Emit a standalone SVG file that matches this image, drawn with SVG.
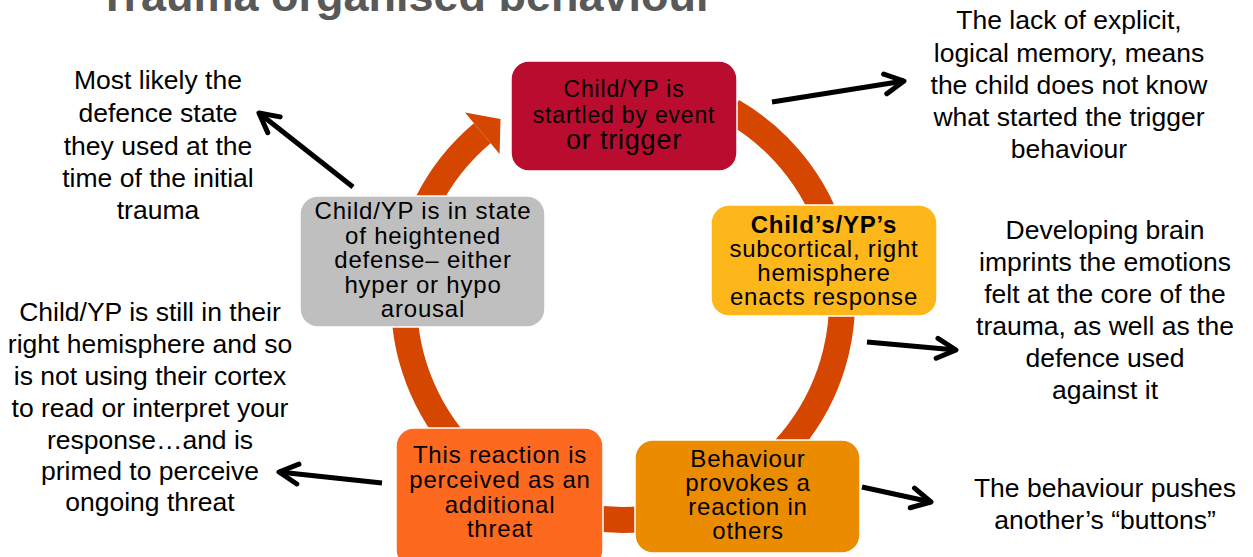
<svg xmlns="http://www.w3.org/2000/svg" width="1253" height="557" viewBox="0 0 1253 557">
<style>
.t{font-family:"Liberation Sans",Arial,sans-serif;fill:#000;text-anchor:middle}
.note{font-size:26.5px}
.box{font-size:24px;letter-spacing:0.8px}
.title{font-family:"Liberation Sans",Arial,sans-serif;font-size:45px;font-weight:bold;fill:#595959}
.arr{fill:none;stroke:#000;stroke-width:5;marker-end:url(#ah)}
.n{stroke:#fff;stroke-width:1.5}
</style>
<defs>
<marker id="ah" markerUnits="userSpaceOnUse" markerWidth="28" markerHeight="26" viewBox="-24 -13 28 26" refX="0" refY="0" orient="auto" overflow="visible">
<path d="M-19,-10 L0,0 L-19,10" fill="none" stroke="#000" stroke-width="5" stroke-linecap="round" stroke-linejoin="round"/>
</marker>
</defs>
<rect width="1253" height="557" fill="#fff"/>
<text class="title" x="406" y="11" text-anchor="middle">Trauma organised behaviour</text>

<g id="cycle">
<path d="M 732.5 111.3 A 219 219 0 1 1 482.3 133.2" fill="none" stroke="#D54600" stroke-width="26"/>
<polygon points="465,112.5 500.5,119 499.6,153.9" fill="#D54600"/>
</g>

<g id="connectors">
<line class="arr" x1="772" y1="102" x2="904" y2="81"/>
<line class="arr" x1="353" y1="187" x2="259" y2="113"/>
<line class="arr" x1="867" y1="342" x2="956" y2="350"/>
<line class="arr" x1="382" y1="483" x2="279" y2="472"/>
<line class="arr" x1="862" y1="487" x2="931" y2="502"/>
</g>

<g id="node-trigger">
<rect class="n" x="511" y="61" width="226" height="110" rx="18" fill="#BA0C2F"/>
<text class="t box" x="624" y="97" style="font-size:23px">Child/YP is</text>
<text class="t box" x="624" y="123" style="font-size:23px">startled by event</text>
<text class="t box" x="624" y="149" style="font-size:27px">or trigger</text>
</g>

<g id="node-subcortical">
<rect class="n" x="711" y="205" width="226" height="111" rx="18" fill="#FDB71A"/>
<text class="t box" x="824" y="233" font-weight="bold">Child’s/YP’s</text>
<text class="t box" x="824" y="257">subcortical, right</text>
<text class="t box" x="824" y="281">hemisphere</text>
<text class="t box" x="824" y="305">enacts response</text>
</g>

<g id="node-behaviour">
<rect class="n" x="635" y="440" width="225" height="113" rx="18" fill="#EB8C00"/>
<text class="t box" x="748" y="467">Behaviour</text>
<text class="t box" x="748" y="491">provokes a</text>
<text class="t box" x="748" y="515">reaction in</text>
<text class="t box" x="748" y="539">others</text>
</g>

<g id="node-reaction">
<rect class="n" x="396" y="428" width="207" height="140" rx="18" fill="#FD6A1F"/>
<text class="t box" x="500" y="463">This reaction is</text>
<text class="t box" x="500" y="488">perceived as an</text>
<text class="t box" x="500" y="513">additional</text>
<text class="t box" x="500" y="537">threat</text>
</g>

<g id="node-defense">
<rect class="n" x="300" y="196" width="245" height="131" rx="18" fill="#BFBFBF"/>
<text class="t box" x="423" y="219">Child/YP is in state</text>
<text class="t box" x="423" y="244">of heightened</text>
<text class="t box" x="423" y="268">defense– either</text>
<text class="t box" x="423" y="293">hyper or hypo</text>
<text class="t box" x="423" y="317">arousal</text>
</g>

<g id="note-topleft">
<text class="t note" x="158" y="89">Most likely the</text>
<text class="t note" x="158" y="122">defence state</text>
<text class="t note" x="158" y="155">they used at the</text>
<text class="t note" x="158" y="187">time of the initial</text>
<text class="t note" x="158" y="219">trauma</text>
</g>

<g id="note-topright">
<text class="t note" x="1069" y="29">The lack of explicit,</text>
<text class="t note" x="1069" y="62">logical memory, means</text>
<text class="t note" x="1069" y="94">the child does not know</text>
<text class="t note" x="1069" y="126">what started the trigger</text>
<text class="t note" x="1069" y="158">behaviour</text>
</g>

<g id="note-right">
<text class="t note" x="1105" y="239">Developing brain</text>
<text class="t note" x="1105" y="271">imprints the emotions</text>
<text class="t note" x="1105" y="303">felt at the core of the</text>
<text class="t note" x="1105" y="335">trauma, as well as the</text>
<text class="t note" x="1105" y="367">defence used</text>
<text class="t note" x="1105" y="399">against it</text>
</g>

<g id="note-left">
<text class="t note" x="150" y="321">Child/YP is still in their</text>
<text class="t note" x="150" y="353">right hemisphere and so</text>
<text class="t note" x="150" y="385">is not using their cortex</text>
<text class="t note" x="150" y="417">to read or interpret your</text>
<text class="t note" x="150" y="449">response…and is</text>
<text class="t note" x="150" y="480">primed to perceive</text>
<text class="t note" x="150" y="511">ongoing threat</text>
</g>

<g id="note-bottomright">
<text class="t note" x="1105" y="497">The behaviour pushes</text>
<text class="t note" x="1105" y="529">another’s “buttons”</text>
</g>
</svg>
